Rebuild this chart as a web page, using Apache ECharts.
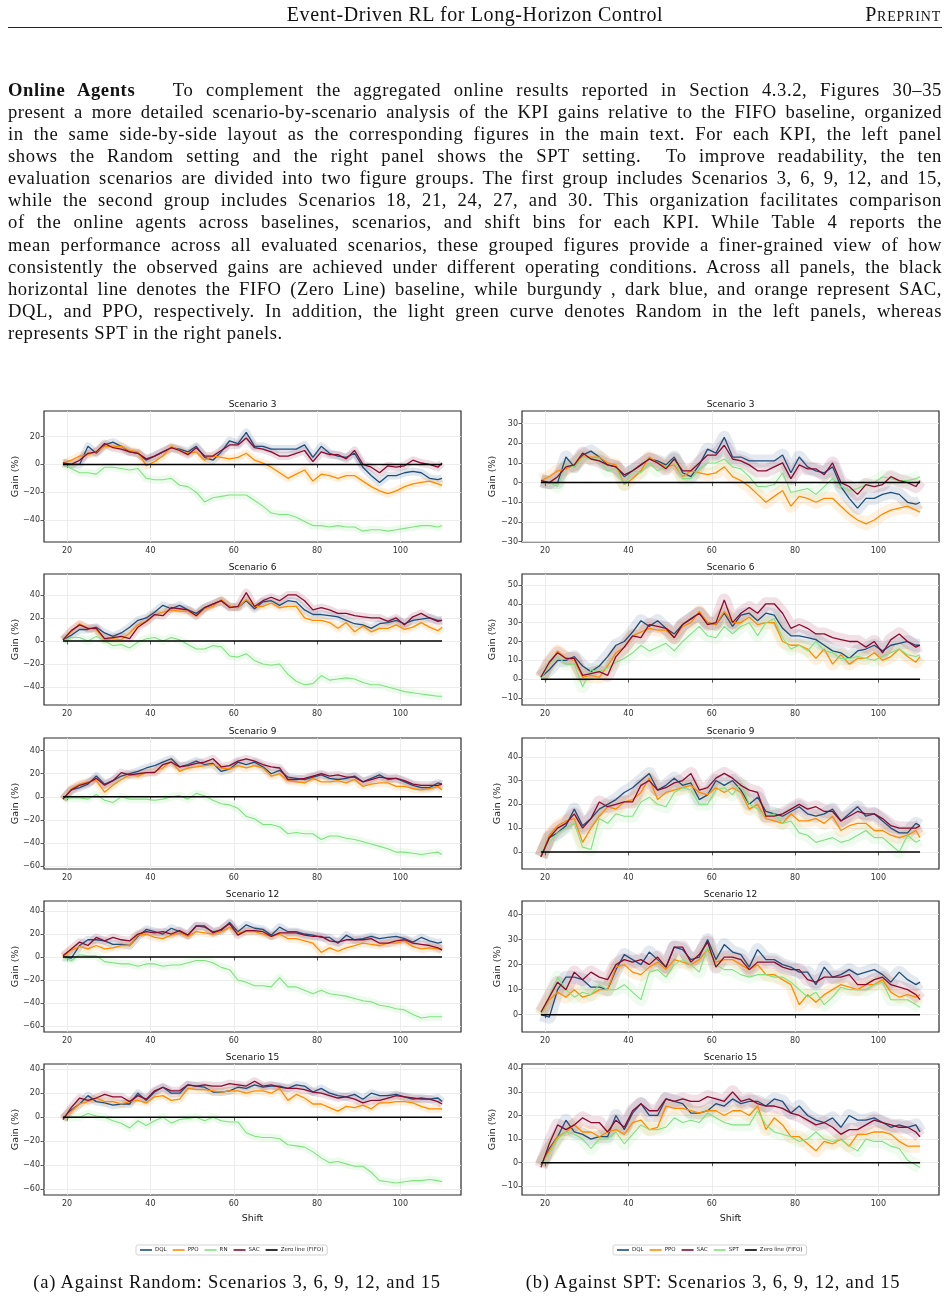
<!DOCTYPE html>
<html><head><meta charset="utf-8">
<script src="https://cdn.jsdelivr.net/npm/echarts@6/dist/echarts.min.js"></script>
<style>
body{margin:0;background:#fff;}
#page{position:relative;width:950px;height:1299px;overflow:hidden;font-family:"Liberation Serif","DejaVu Serif",serif;color:#111;}
#chart{position:absolute;left:0;top:0;width:950px;height:1299px;}
.t{position:absolute;white-space:nowrap;}
.ln{position:absolute;left:8px;font-size:18.6px;line-height:22px;height:22px;white-space:nowrap;}
</style></head>
<body><div id="page">
<div id="chart"></div>
<div class="t" style="left:0;width:950px;top:3px;text-align:center;font-size:20px;letter-spacing:0.6px;line-height:22px;">Event-Driven RL for Long-Horizon Control</div>
<div class="t" style="right:9px;top:3px;font-size:20px;line-height:22px;font-variant:small-caps;letter-spacing:0.8px;">Preprint</div>
<div style="position:absolute;left:8px;width:934px;top:27px;height:1px;background:#222;"></div>
<div class="ln" style="top:79px;"><b>Online Agents</b>&nbsp;&nbsp; To complement the aggregated online results reported in Section 4.3.2, Figures 30–35</div>
<div class="ln" style="top:101px;">present a more detailed scenario-by-scenario analysis of the KPI gains relative to the FIFO baseline, organized</div>
<div class="ln" style="top:123px;">in the same side-by-side layout as the corresponding figures in the main text. For each KPI, the left panel</div>
<div class="ln" style="top:145px;">shows the Random setting and the right panel shows the SPT setting.&nbsp; To improve readability, the ten</div>
<div class="ln" style="top:167px;">evaluation scenarios are divided into two figure groups. The first group includes Scenarios 3, 6, 9, 12, and 15,</div>
<div class="ln" style="top:189px;">while the second group includes Scenarios 18, 21, 24, 27, and 30. This organization facilitates comparison</div>
<div class="ln" style="top:211px;">of the online agents across baselines, scenarios, and shift bins for each KPI. While Table 4 reports the</div>
<div class="ln" style="top:234px;">mean performance across all evaluated scenarios, these grouped figures provide a finer-grained view of how</div>
<div class="ln" style="top:256px;">consistently the observed gains are achieved under different operating conditions. Across all panels, the black</div>
<div class="ln" style="top:278px;">horizontal line denotes the FIFO (Zero Line) baseline, while burgundy , dark blue, and orange represent SAC,</div>
<div class="ln" style="top:300px;">DQL, and PPO, respectively. In addition, the light green curve denotes Random in the left panels, whereas</div>
<div class="ln last" style="top:322px;">represents SPT in the right panels.</div>
<div class="t" style="left:0;width:474px;top:1271px;text-align:center;font-size:18.5px;letter-spacing:0.8px;line-height:22px;">(a) Against Random: Scenarios 3, 6, 9, 12, and 15</div>
<div class="t" style="left:476px;width:474px;top:1271px;text-align:center;font-size:18.5px;letter-spacing:0.8px;line-height:22px;">(b) Against SPT: Scenarios 3, 6, 9, 12, and 15</div>
</div>
<script>
// Shift values sampled (every 2nd shift plus final)
const shifts = [19,21,23,25,27,29,31,33,35,37,39,41,43,45,47,49,51,53,55,57,59,61,63,65,67,69,71,73,75,77,79,81,83,85,87,89,91,93,95,97,99,101,103,105,107,109,110];
const xTicks = [20,40,60,80,100];

// Scenario 3
const s3_dql = [1,0,0,13,8,14,16,13,9,8, 3,6,9,12,11,9,13,5,3,9, 17,15,23,13,13,11,11,11,11,14, 5,13,8,6,5,8,-2,-8,-13,-8, -8,-6,-5,-6,-10,-11, -10];
const s3_ppo = [1,3,6,7,9,13,13,13,10,9, -1,2,6,13,10,8,9,3,6,5, 4,5,8,3,1,-2,-6,-10,-7,-4, -12,-7,-8,-10,-8,-8,-12,-16,-19,-21, -19,-16,-14,-13,-12,-14, -15];
const s3_sac = [1,0,3,8,9,15,12,11,9,8, 4,6,9,12,10,7,12,6,6,10, 14,14,19,12,11,9,6,6,8,10, 2,9,7,7,4,10,0,-2,-6,-1, -2,-1,3,1,0,-2, 1];
const s3_rn  = [0,-3,-6,-6,-7,-2,-2,-3,-4,-3, -10,-11,-11,-10,-15,-16,-20,-27,-24,-23, -22,-22,-22,-26,-30,-35,-36,-36,-38,-41, -44,-44,-45,-44,-45,-45,-48,-47,-47,-48, -47,-46,-45,-44,-44,-45, -44];
const s3_spt = [0,0,-2,9,8,13,12,12,6,7, -1,6,5,10,6,8,12,2,2,7, 10,10,12,8,7,3,-2,-2,-1,5, -5,-4,-3,-6,-2,2,-2,-4,-3,-1, 0,3,2,1,1,2, 3];

// Scenario 6
const s6_dql = [1,5,10,10,12,7,4,7,12,18, 20,25,31,28,31,27,24,29,32,35, 30,29,35,28,34,35,31,35,34,27, 23,23,22,21,18,15,14,11,15,16, 18,15,18,19,20,18, 18];
const s6_ppo = [1,8,15,11,10,1,2,1,7,14, 17,23,25,27,26,26,22,28,30,36, 30,29,36,30,30,33,29,30,30,20, 18,18,16,11,16,8,13,8,11,11, 14,10,12,16,12,9, 12];
const s6_sac = [1,9,14,11,11,2,3,4,2,12, 17,23,22,29,28,27,22,29,32,35, 29,30,42,30,35,38,35,40,40,35, 27,29,27,24,24,22,21,20,20,17, 20,14,21,24,20,17, 18];
const s6_rn  = [0,3,3,0,4,0,-4,-3,-6,-1, 2,3,0,3,1,-3,-7,-7,-4,-5, -13,-14,-11,-17,-20,-21,-20,-29,-35,-38, -37,-30,-34,-33,-32,-33,-36,-38,-38,-40, -42,-44,-45,-46,-47,-48, -48];
const s6_spt = [0,8,12,8,8,-4,5,4,6,9, 11,14,18,15,17,19,15,20,24,28, 23,22,28,24,28,30,23,30,32,22, 16,18,15,20,15,14,11,11,12,11, 10,12,14,16,13,12, 13];

// Scenario 9
const s9_dql = [-2,6,8,11,18,11,14,18,20,22, 25,27,30,33,26,28,31,28,29,22, 24,30,28,30,26,20,23,17,16,15, 17,19,16,15,16,18,13,16,19,15, 16,13,10,8,8,12, 11];
const s9_ppo = [-2,7,11,13,14,4,10,15,19,18, 21,22,25,31,22,25,26,27,28,25, 24,27,25,27,25,18,20,14,13,12, 16,13,13,14,12,15,9,11,12,12, 9,9,7,6,7,9, 6];
const s9_sac = [-2,6,10,12,16,10,14,21,19,20, 21,21,28,30,26,27,29,30,33,26, 27,31,33,31,28,26,25,15,15,16, 18,20,18,19,17,17,13,15,17,16, 16,14,11,10,10,10, 11];
const s9_rn  = [-2,-1,-1,-2,2,-3,-5,0,-2,-2, -2,-3,-2,0,1,-2,3,1,-3,-6, -7,-10,-17,-19,-24,-24,-26,-32,-31,-32, -32,-37,-34,-34,-36,-37,-39,-41,-43,-45, -48,-48,-49,-50,-49,-48, -50];
const s9_spt = [0,4,8,10,12,2,1,14,12,16, 15,15,21,23,20,19,25,27,26,20, 20,26,27,24,29,20,18,15,16,12, 13,8,7,4,5,6,4,5,7,9, 6,6,3,0,7,4, 5];

// Scenario 12
const s12_dql = [0,-1,10,15,15,14,11,11,10,18, 24,22,20,25,22,19,27,26,22,23, 30,22,28,25,24,19,26,22,22,20, 19,17,17,12,19,15,16,18,16,17, 18,16,13,17,14,12, 13];
const s12_ppo = [0,6,9,7,10,7,8,10,10,19, 20,17,16,19,21,18,22,21,20,22, 26,21,22,22,20,18,20,16,16,14, 12,4,8,5,8,10,12,11,10,12, 12,14,9,7,8,7, 8];
const s12_sac = [1,7,13,10,17,14,17,15,14,20, 22,21,22,20,23,19,27,27,21,24, 29,19,23,23,22,18,21,21,21,19, 18,18,14,13,15,15,15,16,12,12, 14,15,12,11,10,8, 6];
const s12_rn  = [0,-3,2,1,1,-4,-5,-6,-6,-8, -6,-6,-8,-7,-7,-5,-3,-3,-5,-9, -11,-20,-22,-25,-25,-26,-18,-26,-26,-29, -32,-29,-32,-33,-34,-36,-38,-39,-42,-43, -45,-46,-50,-53,-52,-52, -52];
const s12_spt = [0,7,15,10,7,9,8,12,10,10, 12,9,6,17,18,15,20,22,20,17, 27,20,18,18,16,15,16,16,15,15, 13,10,7,9,4,7,11,10,10,10, 12,13,6,6,6,4, 3];

// Scenario 15
const s15_dql = [-1,6,11,18,13,12,10,11,11,20, 14,21,25,20,20,27,26,25,21,21, 22,25,24,27,25,26,26,24,27,26, 21,24,20,18,17,19,15,20,18,18, 19,17,15,16,15,16, 13];
const s15_ppo = [-1,5,11,13,16,13,13,11,13,14, 12,17,18,14,15,24,23,23,22,21, 22,22,20,22,22,20,24,14,19,16, 11,11,8,5,9,8,10,7,12,12, 13,13,12,9,7,7, 7];
const s15_sac = [-2,8,16,14,16,19,17,17,13,18, 15,22,25,22,22,27,26,27,26,26, 28,27,26,30,26,27,25,24,24,23, 21,20,18,16,17,15,12,14,14,16, 18,17,16,15,15,13, 11];
const s15_rn  = [-1,0,0,3,1,0,-3,-5,-9,-3, -7,-3,0,-5,-2,-1,0,-3,0,-3, -4,-4,-13,-16,-17,-17,-18,-23,-24,-25, -29,-34,-38,-37,-39,-41,-41,-46,-53,-54, -55,-54,-53,-53,-52,-53, -54];
const s15_spt = [-1,4,10,13,12,10,6,10,10,13, 8,12,16,14,14,15,19,17,18,17, 21,19,17,16,16,16,22,16,13,12, 11,9,10,13,10,9,10,7,5,10, 9,9,7,6,1,-1, -2];

const scenarioNames = ['Scenario 3','Scenario 6','Scenario 9','Scenario 12','Scenario 15'];
const zeroLine = [[19,0],[110,0]];

// Y tick labels per panel
const yTicksLeft  = [[-40,-20,0,20],[-40,-20,0,20,40],[-60,-40,-20,0,20,40],[-60,-40,-20,0,20,40],[-60,-40,-20,0,20,40]];
const yTicksRight = [[-30,-20,-10,0,10,20,30],[-10,0,10,20,30,40,50],[0,10,20,30,40],[0,10,20,30,40],[-10,0,10,20,30,40]];

// ---- justify paragraph lines like the typeset page ----
(function(){
  const lines = Array.from(document.querySelectorAll('.ln'));
  let lsSum = 0, lsN = 0;
  lines.forEach(el=>{
    if(el.classList.contains('last')) return;
    const txt = el.textContent;
    const n = txt.length;
    const sp = (txt.match(/[ \u00a0]/g)||[]).length;
    const w = el.getBoundingClientRect().width;
    const ls = Math.max(-0.3, Math.min(0.6, (934 - w) * 0.5 / n));
    el.style.letterSpacing = ls + 'px';
    const w2 = el.getBoundingClientRect().width;
    el.style.wordSpacing = ((934 - w2) / sp) + 'px';
    lsSum += ls; lsN++;
  });
  const last = document.querySelector('.ln.last');
  last.style.letterSpacing = (lsSum/lsN) + 'px';
})();

// ---- layout / build ----
const scen = [
  {dql:s3_dql,ppo:s3_ppo,sac:s3_sac,rn:s3_rn,spt:s3_spt},
  {dql:s6_dql,ppo:s6_ppo,sac:s6_sac,rn:s6_rn,spt:s6_spt},
  {dql:s9_dql,ppo:s9_ppo,sac:s9_sac,rn:s9_rn,spt:s9_spt},
  {dql:s12_dql,ppo:s12_ppo,sac:s12_sac,rn:s12_rn,spt:s12_spt},
  {dql:s15_dql,ppo:s15_ppo,sac:s15_sac,rn:s15_rn,spt:s15_spt}
];
const rangeL = [[-55.8,38.4],[-55.6,58.2],[-62.6,51],[-65.2,48.7],[-65,44.4]];
const rangeR = [[-30.2,36.4],[-13.7,55.8],[-7.2,47.9],[-6.9,45.4],[-13.7,41.8]];
const gapL = [23,23,23,23,23], gapR = [24,24,19,19,24];
const tops = [411,574,738,901,1064];
const H = 131, W = 417, LX = 44, RX = 522;
const COL = {DQL:'#1f4e7c', PPO:'#ff8c00', SAC:'#8a0b2f', G:'#80e280'};
const FONT = 'DejaVu Sans';
const minus = v => String(v).replace('-', '\u2212');
const pts = a => shifts.map((x,i)=>[x,a[i]]);

const grid=[], xAxis=[], yAxis=[], series=[], graphic=[];
function panel(idx,row,left,range,ticks,gap,greenName,greenArr,bandW,bandOp){
  grid.push({left:left, top:tops[row], width:W, height:H, show:true, borderColor:'#2b2b2b', borderWidth:1.2, backgroundColor:'transparent'});
  xAxis.push({gridIndex:idx, type:'value', min:14.45, max:114.55,
    axisLine:{show:false},
    axisTick:{show:true, length:3.5, customValues:xTicks, lineStyle:{color:'#333', width:0.8}},
    axisLabel:{customValues:xTicks, fontSize:8, color:'#333', margin:5, fontFamily:FONT},
    splitLine:{show:true, lineStyle:{color:'#e9e9e9', width:0.8}},
    name: row===4 ? 'Shift' : '', nameLocation:'middle', nameGap:19, nameMoveOverlap:false,
    nameTextStyle:{fontSize:9.5, color:'#222', fontFamily:FONT}});
  yAxis.push({gridIndex:idx, type:'value', min:range[0], max:range[1],
    axisLine:{show:false},
    axisTick:{show:true, length:3.5, customValues:ticks, lineStyle:{color:'#333', width:0.8}},
    axisLabel:{customValues:ticks, fontSize:8, color:'#333', margin:4, fontFamily:FONT, formatter:minus},
    splitLine:{show:true, lineStyle:{color:'#e9e9e9', width:0.8}},
    name:'Gain (%)', nameLocation:'middle', nameGap:gap, nameRotate:90, nameMoveOverlap:false,
    nameTextStyle:{fontSize:9.5, color:'#222', fontFamily:FONT}});
  const sc = scen[row];
  const specs = [['DQL',sc.dql,COL.DQL],['PPO',sc.ppo,COL.PPO],[greenName,greenArr,COL.G],['SAC',sc.sac,COL.SAC]];
  specs.forEach(([n,a,c])=>series.push({type:'line', name:n+' band', xAxisIndex:idx, yAxisIndex:idx, data:pts(a),
    showSymbol:false, silent:true, z:1, color:c,
    lineStyle:{color:c, width:bandW, opacity:bandOp, join:'round', cap:'butt'}}));
  specs.forEach(([n,a,c])=>series.push({type:'line', name:n, xAxisIndex:idx, yAxisIndex:idx, data:pts(a),
    showSymbol:false, z:3, color:c, lineStyle:{color:c, width: n===greenName?1.1:1.3}}));
  series.push({type:'line', name:'Zero line (FIFO)', xAxisIndex:idx, yAxisIndex:idx, data:zeroLine,
    showSymbol:false, z:4, color:'#000', lineStyle:{color:'#000', width:1.5}});
  graphic.push({type:'text', x:left+W/2, y:tops[row]-6, style:{text:scenarioNames[row], textAlign:'center', textVerticalAlign:'middle', fontSize:9, fill:'#111', fontFamily:FONT}});
}
for(let r=0;r<5;r++){
  panel(2*r, r, LX, rangeL[r], yTicksLeft[r], gapL[r], 'RN', scen[r].rn, 8, 0.14);
  panel(2*r+1, r, RX, rangeR[r], yTicksRight[r], gapR[r], 'SPT', scen[r].spt, 13, 0.12);
}
const legendBase = {top:1245, orient:'horizontal', icon:'rect', itemWidth:12, itemHeight:1.6, itemGap:6,
  textStyle:{fontSize:5.5, color:'#222', fontFamily:FONT, padding:[0,0,0,-2]}, borderColor:'#c8c8c8', borderWidth:0.8, borderRadius:2, padding:[2,4], selectedMode:false};
const option = {
  animation:false,
  grid, xAxis, yAxis, series, graphic,
  legend:[
    Object.assign({}, legendBase, {left:136, data:['DQL','PPO','RN','SAC','Zero line (FIFO)']}),
    Object.assign({}, legendBase, {left:613, data:['DQL','PPO','SAC','SPT','Zero line (FIFO)']})
  ]
};
const chart = echarts.init(document.getElementById('chart'), null, {renderer:'canvas'});
chart.setOption(option);
</script>
</body></html>
